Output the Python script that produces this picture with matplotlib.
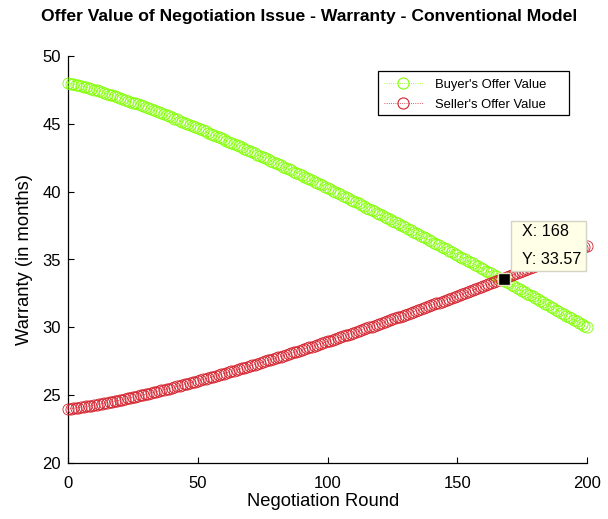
import numpy as np
import matplotlib
matplotlib.use("Agg")
import matplotlib.pyplot as plt
from matplotlib.patches import Rectangle
from matplotlib.lines import Line2D

plt.rcParams['font.family'] = ['Liberation Sans', 'DejaVu Sans']

# negotiation rounds 0..200
rounds = np.arange(201)

# buyer's offer (months of warranty), one value per round
buyer = [48.00, 47.97, 47.94, 47.89, 47.85, 47.80, 47.75, 47.70, 47.65, 47.59,
         47.53, 47.47, 47.41, 47.35, 47.29, 47.22, 47.16, 47.10, 47.04, 46.98,
         46.92, 46.85, 46.78, 46.71, 46.64, 46.57, 46.50, 46.43, 46.36, 46.29,
         46.22, 46.15, 46.07, 46.00, 45.92, 45.85, 45.77, 45.70, 45.62, 45.55,
         45.47, 45.39, 45.32, 45.24, 45.16, 45.08, 45.00, 44.92, 44.84, 44.76,
         44.68, 44.60, 44.52, 44.44, 44.35, 44.27, 44.19, 44.10, 44.02, 43.94,
         43.86, 43.77, 43.69, 43.60, 43.51, 43.43, 43.34, 43.26, 43.17, 43.08,
         43.00, 42.91, 42.82, 42.73, 42.65, 42.56, 42.47, 42.38, 42.29, 42.20,
         42.12, 42.02, 41.93, 41.84, 41.75, 41.66, 41.57, 41.48, 41.39, 41.30,
         41.21, 41.11, 41.02, 40.93, 40.83, 40.74, 40.65, 40.55, 40.46, 40.37,
         40.27, 40.18, 40.08, 39.99, 39.89, 39.80, 39.70, 39.61, 39.51, 39.42,
         39.32, 39.22, 39.13, 39.03, 38.93, 38.83, 38.74, 38.64, 38.54, 38.45,
         38.35, 38.25, 38.15, 38.05, 37.95, 37.85, 37.75, 37.66, 37.56, 37.46,
         37.36, 37.26, 37.16, 37.06, 36.96, 36.85, 36.75, 36.65, 36.55, 36.45,
         36.35, 36.25, 36.15, 36.04, 35.94, 35.84, 35.74, 35.63, 35.53, 35.43,
         35.33, 35.22, 35.12, 35.02, 34.91, 34.81, 34.71, 34.60, 34.50, 34.39,
         34.29, 34.18, 34.08, 33.97, 33.87, 33.76, 33.66, 33.55, 33.45, 33.34,
         33.24, 33.13, 33.02, 32.92, 32.81, 32.70, 32.60, 32.49, 32.38, 32.28,
         32.17, 32.06, 31.96, 31.85, 31.74, 31.63, 31.52, 31.42, 31.31, 31.20,
         31.09, 30.98, 30.87, 30.76, 30.66, 30.55, 30.44, 30.33, 30.22, 30.11,
         30.00]

# seller's offer, one value per round
seller = [24.00, 24.01, 24.03, 24.06, 24.08, 24.11, 24.14, 24.17, 24.20, 24.23,
          24.26, 24.30, 24.34, 24.38, 24.41, 24.45, 24.49, 24.52, 24.56, 24.60,
          24.64, 24.68, 24.72, 24.77, 24.81, 24.85, 24.90, 24.94, 24.98, 25.02,
          25.07, 25.12, 25.16, 25.21, 25.26, 25.30, 25.35, 25.40, 25.45, 25.49,
          25.54, 25.59, 25.64, 25.69, 25.74, 25.80, 25.85, 25.90, 25.95, 26.00,
          26.05, 26.10, 26.16, 26.21, 26.26, 26.32, 26.37, 26.42, 26.48, 26.53,
          26.59, 26.64, 26.70, 26.75, 26.81, 26.87, 26.92, 26.98, 27.03, 27.09,
          27.15, 27.21, 27.26, 27.32, 27.38, 27.44, 27.50, 27.56, 27.61, 27.67,
          27.73, 27.79, 27.85, 27.91, 27.97, 28.03, 28.09, 28.15, 28.21, 28.27,
          28.34, 28.40, 28.46, 28.52, 28.58, 28.65, 28.71, 28.77, 28.83, 28.90,
          28.96, 29.02, 29.09, 29.15, 29.22, 29.28, 29.34, 29.41, 29.47, 29.54,
          29.60, 29.66, 29.73, 29.80, 29.86, 29.93, 29.99, 30.06, 30.12, 30.19,
          30.26, 30.32, 30.39, 30.46, 30.53, 30.59, 30.66, 30.73, 30.79, 30.86,
          30.93, 31.00, 31.07, 31.13, 31.20, 31.27, 31.34, 31.41, 31.48, 31.55,
          31.62, 31.69, 31.76, 31.83, 31.90, 31.97, 32.04, 32.11, 32.18, 32.25,
          32.32, 32.39, 32.46, 32.53, 32.60, 32.67, 32.74, 32.81, 32.89, 32.96,
          33.03, 33.10, 33.17, 33.25, 33.32, 33.39, 33.46, 33.54, 33.61, 33.68,
          33.75, 33.83, 33.90, 33.98, 34.05, 34.12, 34.20, 34.27, 34.34, 34.42,
          34.49, 34.57, 34.64, 34.72, 34.79, 34.87, 34.94, 35.02, 35.09, 35.17,
          35.24, 35.32, 35.39, 35.47, 35.54, 35.62, 35.70, 35.77, 35.85, 35.92,
          36.00]

# data tip shown on the chart
tip_round = 168
tip_value = 33.57

x_ticks = [0, 50, 100, 150, 200]
y_ticks = [20, 25, 30, 35, 40, 45, 50]

green = '#80ff00'
red = '#d41f2b'

fig = plt.figure(figsize=(6.08, 5.19), dpi=100)
ax = fig.add_axes([68/608, 56/519, 519/608, 407/519])

ax.plot(rounds, buyer, linestyle=':', linewidth=0.6, color=green,
        marker='o', markersize=8, markerfacecolor='none', markeredgewidth=0.6,
        clip_on=False, zorder=3)
ax.plot(rounds, seller, linestyle=':', linewidth=0.6, color=red,
        marker='o', markersize=8, markerfacecolor='none', markeredgewidth=0.6,
        clip_on=False, zorder=3)

ax.set_xlim(0, 200)
ax.set_ylim(20, 50)
ax.set_xticks(x_ticks)
ax.set_yticks(y_ticks)
ax.tick_params(direction='in', length=4, width=0.8, labelsize=12, colors='black')
ax.tick_params(axis='x', pad=9)
ax.tick_params(axis='y', pad=5)
for s in ['top', 'right']:
    ax.spines[s].set_visible(False)
for s in ['left', 'bottom']:
    ax.spines[s].set_linewidth(0.9)

ax.set_xlabel('Negotiation Round', fontsize=13.2)
ax.xaxis.set_label_coords(0.4913, -0.074)
ax.set_ylabel('Warranty (in months)', fontsize=13.2)
ax.yaxis.set_label_coords(-0.067, 0.5)
fig.text(309/608, 1 - 17/519,
         'Offer Value of Negotiation Issue - Warranty - Conventional Model',
         fontsize=12.6, fontweight='bold', ha='center', va='center')

# legend: box drawn by hand to get the matlab-style spacing
ax.add_patch(Rectangle(((378-68)/519, (463-115)/407), 191/519, 44/407,
                       transform=ax.transAxes, facecolor='white',
                       edgecolor='black', linewidth=0.9, zorder=8, clip_on=False))
handles = [Line2D([], [], linestyle=':', linewidth=0.6, color=green, marker='o',
                  markersize=8, markerfacecolor='none', markeredgewidth=0.8),
           Line2D([], [], linestyle=':', linewidth=0.6, color=red, marker='o',
                  markersize=8, markerfacecolor='none', markeredgewidth=0.8)]
leg = ax.legend(handles, ["Buyer's Offer Value", "Seller's Offer Value"],
                loc='upper left', bbox_to_anchor=((381-68)/519, (463-76)/407),
                borderaxespad=0, fontsize=9.4, frameon=False, handlelength=3.0,
                handletextpad=0.9, borderpad=0.2, labelspacing=0.6)
leg.set_zorder(9)

# data tip
ax.plot([tip_round], [tip_value], marker='s', markersize=9, color='black',
        markeredgecolor='#e6e2c0', markeredgewidth=1.0, zorder=5, clip_on=False)
ax.add_patch(Rectangle(((511-68)/519, (463-271)/407), 75/519, 50/407,
                       transform=ax.transAxes, facecolor='#ffffe8',
                       edgecolor='#d4d4c4', linewidth=1.0, zorder=6, clip_on=False))
ax.text((522-68)/519, (463-232)/407, 'X: %d' % tip_round, transform=ax.transAxes,
        fontsize=11.6, va='center', ha='left', zorder=7)
ax.text((522-68)/519, (463-259)/407, 'Y: %.2f' % tip_value, transform=ax.transAxes,
        fontsize=11.6, va='center', ha='left', zorder=7)

fig.savefig('out.png', dpi=100)
